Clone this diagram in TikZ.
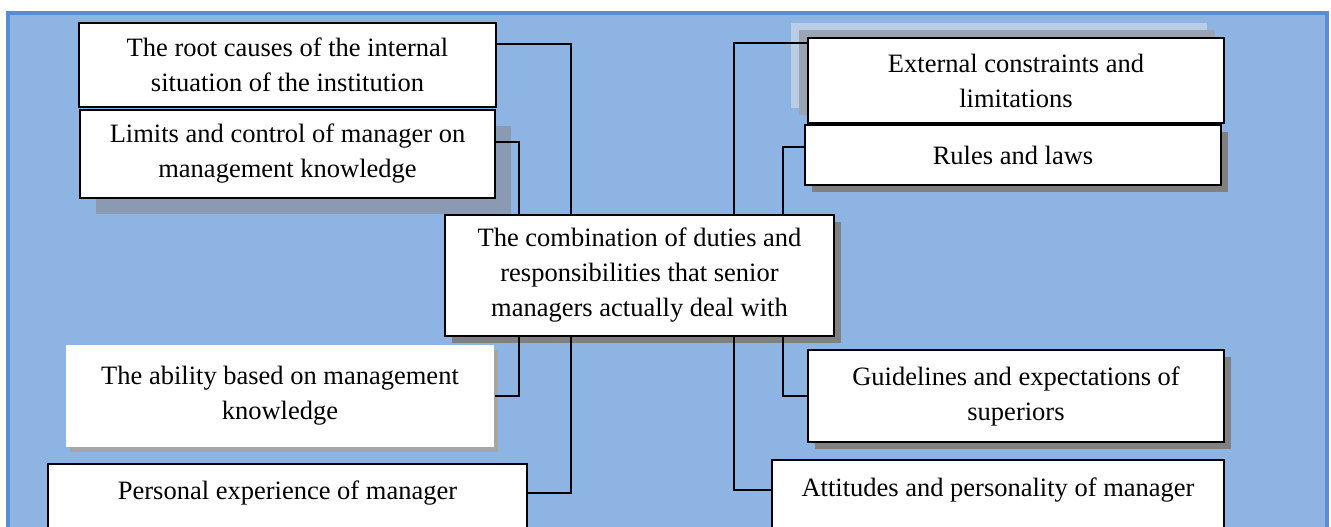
\documentclass[tikz,border=0pt]{standalone}
\usepackage{fontspec}
\setmainfont{Liberation Serif}
\usetikzlibrary{shadows}
\definecolor{panel}{HTML}{8EB4E3}
\definecolor{panelrim}{HTML}{558ED5}
\definecolor{slate}{HTML}{8A9AB2}
\definecolor{haze}{HTML}{B9CDE5}
\definecolor{steel}{HTML}{9AA4B2}
\tikzset{
	x=1pt, y=-1pt, % one unit is one pixel of the picture
	box/.style={draw, line width=1.6pt, fill=white, align=center, inner sep=0pt, font={\fontsize{26.5}{35}\selectfont}}, % the white boxes
	shadowed/.style={general shadow={fill=gray, shadow xshift=#1, shadow yshift=-#1}}, % flat gray shadow
	link/.style={line width=1.5pt}, % the connectors
}

\begin{document}
\begin{tikzpicture}
	\useasboundingbox (0,0) rectangle (1331,527);
	\clip (0,0) rectangle (1331,527);
	\path[fill=panel, draw=panelrim, line width=4pt] (8,13) rectangle (1327,570);
	
	% left side
	\node[box, minimum width=417pt, minimum height=84pt] (root) at (287.5,65) {The root causes of the internal\\situation of the institution};
	\node[box, minimum width=415pt, minimum height=88pt, general shadow={fill=slate, shadow xshift=16pt, shadow yshift=-16pt}] (limits) at (287.5,154) {Limits and control of manager on\\management knowledge};
	\node[box, draw=none, minimum width=428pt, minimum height=102pt, general shadow={fill=gray!70, shadow xshift=4pt, shadow yshift=-5pt}] (ability) at (280,396) {The ability based on management\\knowledge};
	\node[box, anchor=north, minimum width=479pt, text height=36pt, text depth=50pt] (personal) at (287.5,463) {Personal experience of manager};
	
	% centre
	\node[box, minimum width=389pt, minimum height=121pt, shadowed=7pt] (comb) at (639.5,275.5) {The combination of duties and\\responsibilities that senior\\managers actually deal with};
	
	% right side
	\node[box, minimum width=416pt, minimum height=85pt, general shadow={fill=haze, shadow xshift=-17pt, shadow yshift=15pt}, general shadow={fill=steel, shadow xshift=-9pt, shadow yshift=8pt}] (external) at (1016,80.5) {External constraints and\\limitations};
	\node[box, minimum width=416pt, minimum height=60pt, shadowed=7pt] (rules) at (1013,155) {Rules and laws};
	\node[box, minimum width=416pt, minimum height=92pt, shadowed=7pt] (guide) at (1016,396) {Guidelines and expectations of\\superiors};
	\node[box, anchor=north, minimum width=452pt, text height=37pt, text depth=50pt] (attitudes) at (998,459) {Attitudes and personality of manager};
	
	\coordinate (trunkA) at (571,0);
	\coordinate (trunkB) at (519,0);
	\coordinate (trunkC) at (734,0);
	\coordinate (trunkD) at (783,0);
	
	\draw[link] ([yshift=21pt]root.east) -| (comb.north -| trunkA);
	\draw[link] ([yshift=12pt]limits.east) -| (comb.north -| trunkB);
	\draw[link] (comb.south -| trunkB) |- (ability.east);
	\draw[link] (comb.south -| trunkA) |- ([yshift=-30pt]personal.north east);
	\draw[link] ([yshift=-6pt]external.north west) -| (comb.north -| trunkC);
	\draw[link] ([yshift=8pt]rules.west) -| (comb.north -| trunkD);
	\draw[link] (comb.south -| trunkD) |- (guide.west);
	\draw[link] (comb.south -| trunkC) |- ([yshift=-31pt]attitudes.north west);
\end{tikzpicture}
\end{document}
